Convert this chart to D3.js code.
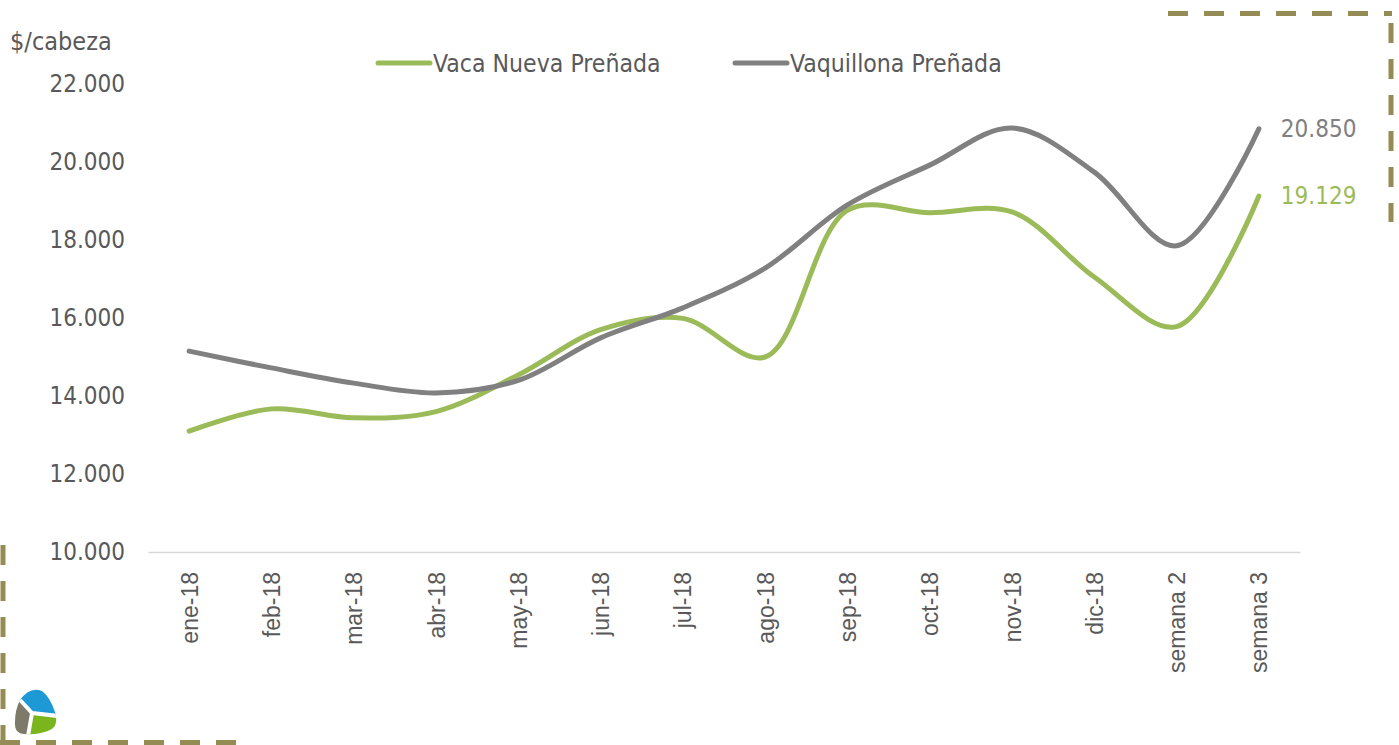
<!DOCTYPE html>
<html>
<head>
<meta charset="utf-8">
<script src="https://cdn.jsdelivr.net/npm/d3@7"></script>
<style>
    body { margin: 0; background: #fff; }
    .ylab text, .title, .legend text, .endlabel { font-family: "DejaVu Sans Condensed", "DejaVu Sans", sans-serif; }
    .xlab text { font-family: "Liberation Sans", Arial, sans-serif; }
</style>
</head>
<body>
<div class="chart"></div>
<script>
const categories = ["ene-18", "feb-18", "mar-18", "abr-18", "may-18", "jun-18", "jul-18",
    "ago-18", "sep-18", "oct-18", "nov-18", "dic-18", "semana 2", "semana 3"];
const vacaNueva = [13100, 13670, 13440, 13600, 14540, 15700, 15990, 15000, 18760, 18700, 18720, 17050, 15780, 19129];
const vaquillona = [15150, 14720, 14330, 14080, 14400, 15490, 16260, 17280, 18900, 19920, 20870, 19740, 17850, 20850];
const yTicks = [10000, 12000, 14000, 16000, 18000, 20000, 22000];
const seriesNames = ["Vaca Nueva Preñada", "Vaquillona Preñada"];
const seriesColors = ["#9bbb59", "#808080"];

const width = 1399;
const height = 745;

const series = [
    { name: seriesNames[0], color: seriesColors[0], values: vacaNueva },
    { name: seriesNames[1], color: seriesColors[1], values: vaquillona }
];

const svg = d3.select(".chart")
    .append("svg")
    .attr("width", width)
    .attr("height", height);

const x = d3.scalePoint()
    .domain(categories)
    .range([148, 1300])
    .padding(0.5);

const y = d3.scaleLinear()
    .domain([10000, 22000])
    .range([552, 84]);

const es = d3.formatLocale({ decimal: ",", thousands: ".", grouping: [3] });
const fmt = es.format(",");

// y axis labels
const yAxis = svg.append("g")
    .attr("class", "ylab")
    .attr("transform", "translate(148,0)")
    .call(d3.axisLeft(y).tickValues(yTicks).tickSize(0).tickPadding(23).tickFormat(fmt));
yAxis.select(".domain").remove();
yAxis.selectAll("text")
    .attr("font-size", "24px")
    .attr("fill", "#595959");

// x axis
const xAxis = svg.append("g")
    .attr("class", "xlab")
    .attr("transform", "translate(0,552)")
    .call(d3.axisBottom(x).tickSize(0).tickSizeOuter(0));
xAxis.select(".domain")
    .attr("stroke", "#d9d9d9")
    .attr("stroke-width", 1.5);
xAxis.selectAll("text")
    .attr("font-size", "23px")
    .attr("fill", "#595959")
    .attr("text-anchor", "end")
    .attr("transform", "rotate(-90)")
    .attr("x", -20)
    .attr("y", 0)
    .attr("dy", "0.35em");

svg.append("text")
    .attr("class", "title")
    .attr("x", 10)
    .attr("y", 50)
    .attr("font-size", "25px")
    .attr("fill", "#595959")
    .text("$/cabeza");

// lines
const line = d3.line()
    .x((d, i) => x(categories[i]))
    .y(d => y(d))
    .curve(d3.curveCatmullRom.alpha(0.5));

svg.selectAll(".serie")
    .data(series)
    .enter()
    .append("path")
    .attr("class", "serie")
    .attr("d", d => line(d.values))
    .attr("fill", "none")
    .attr("stroke", d => d.color)
    .attr("stroke-width", 5)
    .attr("stroke-linecap", "round");

// end labels
svg.selectAll(".endlabel")
    .data(series)
    .enter()
    .append("text")
    .attr("class", "endlabel")
    .attr("x", d => x(categories[categories.length - 1]) + 22)
    .attr("y", d => y(d.values[d.values.length - 1]))
    .attr("dy", "0.35em")
    .attr("font-size", "24px")
    .attr("fill", d => d.color)
    .text(d => fmt(d.values[d.values.length - 1]));

// legend
const legendX = [378, 735];
const legend = svg.selectAll(".legend")
    .data(series)
    .enter()
    .append("g")
    .attr("class", "legend")
    .attr("transform", (d, i) => "translate(" + legendX[i] + ",63)");
legend.append("line")
    .attr("x1", 0)
    .attr("x2", 52)
    .attr("stroke", d => d.color)
    .attr("stroke-width", 5)
    .attr("stroke-linecap", "round");
legend.append("text")
    .attr("x", 55)
    .attr("dy", "0.35em")
    .attr("font-size", "24.6px")
    .attr("fill", "#595959")
    .text(d => d.name);

// dashed frame corners
const dashColor = "#958b55";
const frame = svg.append("g")
    .attr("fill", "none")
    .attr("stroke", dashColor)
    .attr("stroke-width", 5)
    .attr("stroke-dasharray", "20,16");
frame.append("path").attr("d", "M1168,13.5H1392");
frame.append("path").attr("d", "M1391,23V222");
frame.append("path").attr("d", "M3,545V740");
frame.append("path").attr("d", "M0,742.5H237");

// logo
const defs = svg.append("defs");
defs.append("clipPath")
    .attr("id", "logoclip")
    .append("path")
    .attr("d", "M20,700 Q30,686 42,691 Q50,697 55,712 Q59,726 50,730 Q40,735 24,734 Q14,734 15,722 Q15,710 20,700 Z");
const lg = svg.append("g").attr("clip-path", "url(#logoclip)");
lg.append("path").attr("d", "M10,686H62V716L32,713L22,702L10,700Z").attr("fill", "#1d9ad6");
lg.append("path").attr("d", "M10,700L22,702L32,713L28,740H10Z").attr("fill", "#7d7a6a");
lg.append("path").attr("d", "M32,713L62,716V740H28Z").attr("fill", "#7ab51d");
lg.append("path")
    .attr("d", "M21,701 L32,713 L28,736 M32,713 L58,716")
    .attr("stroke", "#fff")
    .attr("stroke-width", 4)
    .attr("stroke-linecap", "round")
    .attr("stroke-linejoin", "round")
    .attr("fill", "none");
</script>
</body>
</html>
